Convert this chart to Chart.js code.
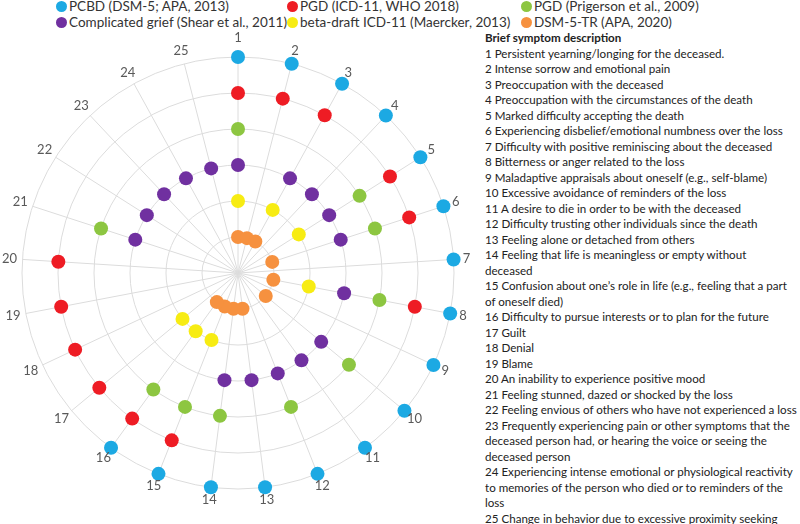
<!DOCTYPE html>
<html>
<head>
<meta charset="utf-8">
<script src="https://cdn.jsdelivr.net/npm/chart.js@4"></script>
<style>
  html, body { margin: 0; padding: 0; background: #fff; }
  body { width: 800px; height: 524px; position: relative; overflow: hidden; font-family: Lato, "Open Sans", sans-serif; color: #222; }
  #chartBox { position: absolute; left: 0px; top: 23px; width: 476px; height: 500px; }
  .legend { position: absolute; font-size: 13.5px; color: #333; white-space: nowrap; }
  .legend span.dot { display: inline-block; width: 11px; height: 11px; border-radius: 50%; margin-right: 2px; vertical-align: -1px; }
  #desc { position: absolute; left: 485px; top: 30px; font-size: 11.6px; line-height: 15.5px; white-space: nowrap; color: #222; }
  #desc b { font-weight: bold; }
</style>
</head>
<body>
<div id="legendBox"></div>
<div id="chartBox"><canvas id="griefChart"></canvas></div>
<div id="desc"></div>
<script>
// symptom numbers round the radar
const symptomLabels = ["1", "2", "3", "4", "5", "6", "7", "8", "9", "10", "11", "12", "13",
  "14", "15", "16", "17", "18", "19", "20", "21", "22", "23", "24", "25"];

// each criteria set sits on its own ring (6 = outer, 1 = inner); null = not included
const pcbd = [6, 6, 6, 6, 6, 6, 6, 6, 6, 6, 6, 6, 6, 6, 6, 6, null, null, null, null, null, null, null, null, null];
const pgdIcd11 = [5, 5, 5, null, 5, 5, null, 5, null, null, null, null, null, null, 5, 5, 5, 5, 5, 5, null, null, null, null, null];
const pgdPrigerson = [4, null, null, null, 4, 4, null, 4, null, 4, null, 4, null, 4, 4, 4, null, null, null, null, 4, null, null, null, null];
const complicatedGrief = [3, null, 3, 3, 3, 3, null, 3, null, 3, 3, 3, 3, 3, null, null, null, null, null, null, 3, 3, 3, 3, 3];
const betaDraft = [2, null, 2, null, 2, null, null, 2, null, null, null, null, null, null, 2, 2, 2, null, null, null, null, null, null, null, null];
const dsm5tr = [1, 1, 1, null, null, 1, null, 1, null, 1, null, null, 1, 1, 1, 1, null, null, null, null, null, null, null, null, null];

const seriesNames = ["PCBD (DSM-5; APA, 2013)", "PGD (ICD-11, WHO 2018)", "PGD (Prigerson et al., 2009)",
  "Complicated grief (Shear et al., 2011)", "beta-draft ICD-11 (Maercker, 2013)", "DSM-5-TR (APA, 2020)"];
const seriesColors = ["#1CA9E3", "#EE1C24", "#8DC641", "#7030A0", "#F7EC13", "#F6913F"];

const descLines = [
  "1 Persistent yearning/longing for the deceased.",
  "2 Intense sorrow and emotional pain",
  "3 Preoccupation with the deceased",
  "4 Preoccupation with the circumstances of the death",
  "5 Marked difficulty accepting the death",
  "6 Experiencing disbelief/emotional numbness over the loss",
  "7 Difficulty with positive reminiscing about the deceased",
  "8 Bitterness or anger related to the loss",
  "9 Maladaptive appraisals about oneself (e.g., self-blame)",
  "10 Excessive avoidance of reminders of the loss",
  "11 A desire to die in order to be with the deceased",
  "12 Difficulty trusting other individuals since the death",
  "13 Feeling alone or detached from others",
  "14 Feeling that life is meaningless or empty without",
  "deceased",
  "15 Confusion about one\u2019s role in life (e.g., feeling that a part",
  "of oneself died)",
  "16 Difficulty to pursue interests or to plan for the future",
  "17 Guilt",
  "18 Denial",
  "19 Blame",
  "20 An inability to experience positive mood",
  "21 Feeling stunned, dazed or shocked by the loss",
  "22 Feeling envious of others who have not experienced a loss",
  "23 Frequently experiencing pain or other symptoms that the",
  "deceased person had, or hearing the voice or seeing the",
  "deceased person",
  "24 Experiencing intense emotional or physiological reactivity",
  "to memories of the person who died or to reminders of the",
  "loss",
  "25 Change in behavior due to excessive proximity seeking"
];

// spoke numbers, centred a little outside the outer ring
const spokeLabels = {
  id: "spokeLabels",
  afterDraw(chart) {
    const scale = chart.scales.r;
    const c = chart.ctx;
    c.save();
    c.font = "13px Lato";
    c.fillStyle = "#595959";
    c.textAlign = "center";
    c.textBaseline = "middle";
    symptomLabels.forEach((lbl, i) => {
      const p = scale.getPointPosition(i, scale.drawingArea + (i === 0 ? 19 : 13));
      c.fillText(lbl, p.x, p.y);
    });
    c.restore();
  },
};

document.addEventListener("DOMContentLoaded", () => {
  // legend, two rows of three
  const legendX = [56, 287, 521];
  const legendY = [-2, 14];
  const legendBox = document.getElementById("legendBox");
  seriesNames.forEach((name, i) => {
    const item = document.createElement("div");
    item.className = "legend";
    item.style.left = legendX[i % 3] + "px";
    item.style.top = legendY[Math.floor(i / 3)] + "px";
    item.innerHTML = '<span class="dot" style="background:' + seriesColors[i] + '"></span>' + name;
    legendBox.appendChild(item);
  });

  const desc = document.getElementById("desc");
  desc.innerHTML = "<b>Brief symptom description</b><br>" + descLines.join("<br>");

  const allSeries = [pcbd, pgdIcd11, pgdPrigerson, complicatedGrief, betaDraft, dsm5tr];
  const ctx = document.getElementById("griefChart");
  new Chart(ctx, {
    type: "radar",
    data: {
      labels: symptomLabels,
      datasets: allSeries.map((values, i) => ({
        label: seriesNames[i],
        data: values,
        showLine: false,
        pointRadius: 7,
        pointHoverRadius: 7,
        pointBorderWidth: 0,
        pointBackgroundColor: seriesColors[i],
        borderColor: seriesColors[i],
        backgroundColor: seriesColors[i],
        fill: false,
      })),
    },
    options: {
      responsive: true,
      maintainAspectRatio: false,
      animation: false,
      layout: { padding: 22 },
      plugins: {
        legend: { display: false },
        tooltip: { enabled: false },
      },
      scales: {
        r: {
          min: 0,
          max: 6,
          ticks: { stepSize: 1, display: false },
          grid: { circular: true, color: "#DCDCDC", lineWidth: 1 },
          angleLines: { color: "#DCDCDC" },
          pointLabels: { display: false },
        },
      },
    },
    plugins: [spokeLabels],
  });
});
</script>
</body>
</html>
